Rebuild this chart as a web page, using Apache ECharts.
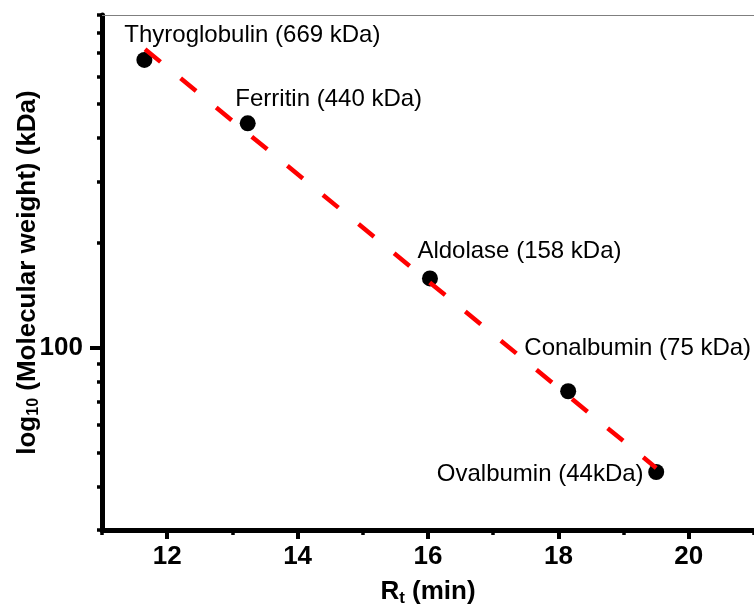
<!DOCTYPE html>
<html><head><meta charset="utf-8">
<script src="https://cdn.jsdelivr.net/npm/echarts@6/dist/echarts.min.js"></script>
<style>html,body{margin:0;padding:0;background:#fff}#c{width:754px;height:606px}</style>
</head><body><div id="c"></div>
<script>
// ---- data ----
const proteins = ['Thyroglobulin (669 kDa)', 'Ferritin (440 kDa)', 'Aldolase (158 kDa)', 'Conalbumin (75 kDa)', 'Ovalbumin (44kDa)'];
const retentionTimes = [11.65, 13.235, 16.03, 18.15, 19.5];
const molecularWeights = [669, 440, 158, 75, 44];
const fitRt = [11.66, 19.5];
const fitMw = [718, 45.2];
const xMajorTicks = [12, 14, 16, 18, 20];
const xMinorTicks = [11, 13, 15, 17, 19, 21];
const yMajorTicks = [100];
const yMinorTicks = [30, 40, 50, 60, 70, 80, 90, 200, 300, 400, 500, 600, 700, 800, 900];
const xRange = [11, 21];
const yRange = [30, 900];

// ---- layout (label placement relative to points) ----
const labelOffsets = [[108, -25], [81, -24], [89.5, -27], [69.5, -43], [-116, 2.5]];

const lg = v => Math.log10(v);
const FONT = 'Liberation Sans, Arial, sans-serif';

const chart = echarts.init(document.getElementById('c'), null, {renderer: 'canvas'});

const scatterData = retentionTimes.map((x, i) => ({
  value: [x, lg(molecularWeights[i])],
  name: proteins[i],
  label: {offset: labelOffsets[i]}
}));
const fitData = fitRt.map((x, i) => [x, lg(fitMw[i])]);

const option = {
  animation: false,
  backgroundColor: '#fff',
  grid: {left: 102, right: 0, top: 15, bottom: 76, outerBoundsMode: 'none', containLabel: false},
  xAxis: [
    {
      type: 'value', min: xRange[0], max: xRange[1], position: 'bottom',
      name: '{b|R}{s|t}{b| (min)}', nameLocation: 'middle', nameGap: 47,
      nameTextStyle: {
        rich: {
          b: {fontFamily: FONT, fontSize: 26, fontWeight: 'bold', color: '#000', lineHeight: 30},
          s: {fontFamily: FONT, fontSize: 17, fontWeight: 'bold', color: '#000', lineHeight: 30, padding: [12, 0, 0, 0]}
        }
      },
      axisLine: {show: true, onZero: false, lineStyle: {color: '#000', width: 5}},
      axisTick: {show: true, customValues: xMajorTicks, length: 9, lineStyle: {color: '#000', width: 4}},
      axisLabel: {show: true, customValues: xMajorTicks, margin: 14, fontFamily: FONT, fontSize: 26, fontWeight: 'bold', color: '#000'},
      splitLine: {show: false}
    },
    {
      type: 'value', min: xRange[0], max: xRange[1], position: 'bottom',
      axisLine: {show: false},
      axisTick: {show: true, customValues: xMinorTicks, length: 5, lineStyle: {color: '#000', width: 3.5}},
      axisLabel: {show: false},
      splitLine: {show: false}
    },
    {
      type: 'value', min: xRange[0], max: xRange[1], position: 'top',
      axisLine: {show: true, onZero: false, lineStyle: {color: '#7f7f7f', width: 1}},
      axisTick: {show: false}, axisLabel: {show: false}, splitLine: {show: false}
    }
  ],
  yAxis: [
    {
      type: 'value', min: lg(yRange[0]), max: lg(yRange[1]), position: 'left',
      name: '{b|log}{s|10}{b| (Molecular weight) (kDa)}', nameLocation: 'middle', nameGap: 59,
      nameMoveOverlap: false,
      nameTextStyle: {
        rich: {
          b: {fontFamily: FONT, fontSize: 26, fontWeight: 'bold', color: '#000', lineHeight: 30},
          s: {fontFamily: FONT, fontSize: 16, fontWeight: 'bold', color: '#000', lineHeight: 30, padding: [12, 0, 0, 0]}
        }
      },
      axisLine: {show: true, onZero: false, lineStyle: {color: '#000', width: 5}},
      axisTick: {show: true, customValues: yMajorTicks.map(lg), length: 12, lineStyle: {color: '#000', width: 4}},
      axisLabel: {show: true, customValues: yMajorTicks.map(lg), margin: 19, fontFamily: FONT, fontSize: 26, fontWeight: 'bold', color: '#000',
        formatter: v => String(Math.round(Math.pow(10, v)))},
      splitLine: {show: false}
    },
    {
      type: 'value', min: lg(yRange[0]), max: lg(yRange[1]), position: 'left',
      axisLine: {show: false},
      axisTick: {show: true, customValues: yMinorTicks.map(lg), length: 5, lineStyle: {color: '#000', width: 3.5}},
      axisLabel: {show: false},
      splitLine: {show: false}
    }
  ],
  series: [
    {
      type: 'scatter', xAxisIndex: 0, yAxisIndex: 0, z: 2,
      symbol: 'circle', symbolSize: 16,
      itemStyle: {color: '#000', opacity: 1},
      label: {
        show: true, position: 'inside', align: 'center', verticalAlign: 'middle',
        formatter: p => p.name, fontFamily: FONT, fontSize: 24, color: '#000', opacity: 1,
        textBorderWidth: 0
      },
      emphasis: {disabled: true},
      data: scatterData
    },
    {
      type: 'line', xAxisIndex: 0, yAxisIndex: 0, z: 3,
      showSymbol: false, symbol: 'none',
      lineStyle: {color: '#ff0000', width: 4.5, type: [20, 26], cap: 'butt'},
      data: fitData
    }
  ]
};
chart.setOption(option);
</script>
</body></html>
